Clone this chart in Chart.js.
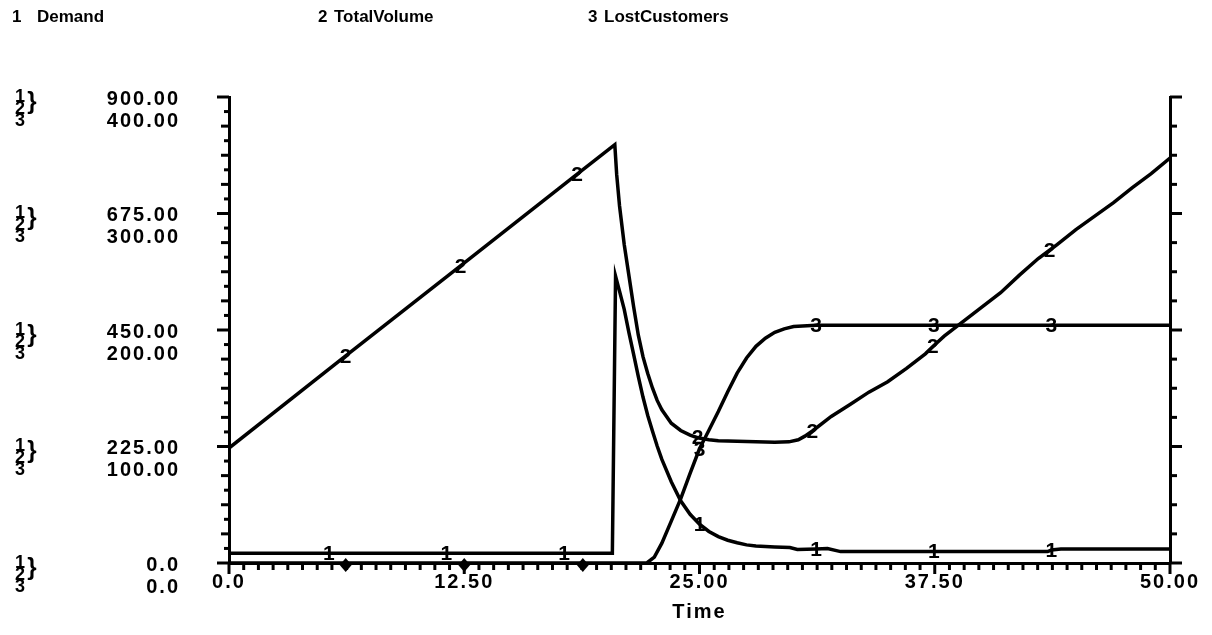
<!DOCTYPE html>
<html>
<head>
<meta charset="utf-8">
<title>Demand / TotalVolume / LostCustomers</title>
<script src="https://cdn.jsdelivr.net/npm/chart.js@4.4.0/dist/chart.umd.min.js"></script>
<style>
  html, body { margin: 0; padding: 0; background: #fff; }
  #wrap { position: relative; width: 1212px; height: 635px; }
  #chart { position: absolute; left: 0; top: 0; }
  .key { position: absolute; top: 7px; font: bold 17px "Liberation Sans", Arial, sans-serif; line-height: 20px; color: #000; white-space: nowrap; }
</style>
</head>
<body>
<div id="wrap">
  <canvas id="chart" width="1212" height="635"></canvas>
</div>
<script>
// Series names, numbered 1..3 like the digit markers on the curves
const seriesNames = ['Demand', 'TotalVolume', 'LostCustomers'];

// Time axis
const timeTicks = [0, 12.5, 25, 37.5, 50];
const timeLabels = ['0.0', '12.50', '25.00', '37.50', '50.00'];

// Left axis: curves 1 and 2 share the upper label, curve 3 the lower one
const scale12Labels = ['0.0', '225.00', '450.00', '675.00', '900.00'];
const scale3Labels = ['0.0', '100.00', '200.00', '300.00', '400.00'];

// 1 Demand
const demandTime = [0, 5.3, 11.55, 17.8, 20.37, 20.54, 20.75, 21, 21.25, 21.5, 21.75, 22, 22.25, 22.5, 22.75, 23,
  23.5, 24, 24.5, 25, 25.5, 26, 26.5, 27, 27.5, 28, 29, 29.8, 30.2, 31.2, 31.8, 32.5, 37.45, 43.5, 43.7, 44.2, 50];
const demandValue = [19, 19, 19, 19, 19, 554, 525, 490, 445, 403, 360, 320, 285, 255, 226, 200,
  157, 120, 94, 75, 61, 51, 44, 39, 35, 33, 31, 30, 26, 27, 28, 22, 22, 22, 25, 27, 27];
const demandMarks = [5.3, 11.55, 17.8, 25, 31.2, 37.45, 43.7];

// 2 TotalVolume
const volumeTime = [0, 6.2, 12.3, 18.5, 20.5, 20.6, 20.75, 21, 21.25, 21.5, 21.75, 22, 22.25, 22.5, 22.75, 23,
  23.5, 24, 24.5, 24.9, 25.5, 26, 27, 28, 29, 29.75, 30.25, 30.6, 31, 32, 33, 34, 35, 36, 37, 37.4, 38, 39, 40,
  41, 42, 43, 43.6, 44, 45, 46, 47, 48, 49, 50];
const volumeValue = [222, 400, 574, 751, 808, 750, 690, 615, 555, 495, 440, 398, 366, 338, 314, 296,
  270, 256, 247, 242, 238, 236, 235, 234, 233, 234, 238, 245, 255, 283, 306, 330, 350, 376, 404, 418, 438, 466, 494,
  522, 556, 588, 604, 615, 644, 670, 696, 725, 752, 782];
const volumeMarks = [6.2, 12.3, 18.5, 24.9, 31, 37.4, 43.6];

// 3 LostCustomers (own scale, 0..400)
const lostTime = [0, 6.2, 12.5, 18.8, 22.2, 22.6, 23, 23.5, 24, 24.5, 25, 25.5, 26, 26.5, 27, 27.5, 28, 28.5,
  29, 29.5, 30, 31.2, 37.45, 43.7, 50];
const lostValue = [0, 0, 0, 0, 0, 5, 17, 36, 55, 77, 98, 114, 130, 147, 163, 176, 186, 193,
  198, 201, 203, 204, 204, 204, 204];
const lostMarks = [6.2, 12.5, 18.8, 25, 31.2, 37.45, 43.7];

const markTimes = [demandMarks, volumeMarks, lostMarks];

const FONT = '"Liberation Sans", Arial, sans-serif';

function points(ts, vs) {
  return ts.map((t, i) => ({ x: t, y: vs[i] }));
}

// legend row at the top
const legendSlots = [[12, 37], [318, 334], [588, 604]];
const wrap = document.getElementById('wrap');
seriesNames.forEach((name, i) => {
  const num = document.createElement('div');
  num.className = 'key';
  num.style.left = legendSlots[i][0] + 'px';
  num.textContent = String(i + 1);
  wrap.appendChild(num);
  const lab = document.createElement('div');
  lab.className = 'key';
  lab.style.left = legendSlots[i][1] + 'px';
  lab.textContent = name;
  wrap.appendChild(lab);
});

// tick marks: left axis in 32 steps, right axis in 16, time axis in 64
const leftDivisions = 32;
const rightDivisions = 16;
const timeDivisions = 64;

const axisDecor = {
  id: 'axisDecor',
  beforeDraw(chart) {
    chart.ctx.letterSpacing = '2px';
  },
  afterDraw(chart) {
    const { ctx, chartArea: a, scales: { x, y, yLost } } = chart;
    ctx.save();
    ctx.letterSpacing = '0px';
    ctx.strokeStyle = '#000';
    ctx.lineWidth = 3;
    const seg = (x1, y1, x2, y2) => {
      ctx.beginPath();
      ctx.moveTo(x1, y1);
      ctx.lineTo(x2, y2);
      ctx.stroke();
    };
    for (let k = 0; k <= leftDivisions; k++) {
      const py = y.getPixelForValue(y.max * k / leftDivisions);
      const len = k % 8 === 0 ? 12 : (k % 2 === 0 ? 8 : 5);
      seg(a.left - len, py, a.left, py);
    }
    for (let k = 0; k <= rightDivisions; k++) {
      const py = yLost.getPixelForValue(yLost.max * k / rightDivisions);
      seg(a.right, py, a.right + (k % 4 === 0 ? 12 : 7), py);
    }
    for (let k = 0; k <= timeDivisions; k++) {
      const px = x.getPixelForValue(x.max * k / timeDivisions);
      seg(px, a.bottom, px, a.bottom + (k % 16 === 0 ? 11 : 7));
    }
    // curve numbers stacked beside each label pair
    ctx.fillStyle = '#000';
    ctx.textAlign = 'center';
    ctx.textBaseline = 'middle';
    y.ticks.forEach(t => {
      const py = y.getPixelForValue(t.value);
      ctx.font = 'bold 18px ' + FONT;
      ctx.fillText('1', 20, py);
      ctx.fillText('2', 20, py + 12);
      ctx.fillText('3', 20, py + 24);
      ctx.font = 'bold 24px ' + FONT;
      ctx.fillText('}', 32, py + 5);
    });
    ctx.restore();
  },
  afterDatasetsDraw(chart) {
    const ctx = chart.ctx;
    ctx.save();
    ctx.letterSpacing = '0px';
    ctx.fillStyle = '#000';
    ctx.font = 'bold 21px ' + FONT;
    ctx.textAlign = 'center';
    ctx.textBaseline = 'middle';
    chart.data.datasets.forEach((ds, di) => {
      const meta = chart.getDatasetMeta(di);
      ds.data.forEach((p, i) => {
        if (!markTimes[di].includes(p.x)) return;
        const el = meta.data[i];
        if (p.y === 0) {
          // marker sitting on the time axis shows as a small diamond
          ctx.beginPath();
          ctx.moveTo(el.x, el.y - 5);
          ctx.lineTo(el.x + 6, el.y + 2);
          ctx.lineTo(el.x, el.y + 9);
          ctx.lineTo(el.x - 6, el.y + 2);
          ctx.closePath();
          ctx.fill();
        } else {
          ctx.fillText(String(di + 1), el.x, el.y + 1);
        }
      });
    });
    ctx.restore();
  }
};

function lineSet(label, data, axis) {
  return {
    label: label,
    data: data,
    yAxisID: axis,
    borderColor: '#000',
    borderWidth: 3.5,
    pointRadius: 0,
    tension: 0,
    fill: false
  };
}

const chart = new Chart(document.getElementById('chart').getContext('2d'), {
  type: 'line',
  data: {
    datasets: [
      lineSet(seriesNames[0], points(demandTime, demandValue), 'y'),
      lineSet(seriesNames[1], points(volumeTime, volumeValue), 'y'),
      lineSet(seriesNames[2], points(lostTime, lostValue), 'yLost')
    ]
  },
  options: {
    responsive: false,
    animation: false,
    devicePixelRatio: 1,
    layout: { padding: { top: 97, left: 0, right: 0, bottom: 0 } },
    plugins: {
      legend: { display: false },
      tooltip: { enabled: false }
    },
    scales: {
      x: {
        type: 'linear',
        min: 0,
        max: 50,
        afterBuildTicks: s => { s.ticks = timeTicks.map(v => ({ value: v })); },
        afterFit: s => { s.height = 72; },
        ticks: {
          callback: (v, i) => timeLabels[i],
          color: '#000',
          padding: 7,
          maxRotation: 0,
          font: { family: FONT, size: 20, weight: 'bold' }
        },
        grid: { drawOnChartArea: false, drawTicks: false },
        border: { display: true, color: '#000', width: 3 },
        title: {
          display: true,
          text: 'Time',
          color: '#000',
          padding: { top: 0, bottom: 11 },
          font: { family: FONT, size: 20, weight: 'bold' }
        }
      },
      y: {
        position: 'left',
        min: 0,
        max: parseFloat(scale12Labels[scale12Labels.length - 1]),
        afterBuildTicks: s => { s.ticks = scale12Labels.map(v => ({ value: parseFloat(v) })); },
        afterFit: s => { s.width = 229; },
        ticks: {
          callback: (v, i) => [scale12Labels[i], scale3Labels[i]],
          color: '#000',
          padding: 49,
          labelOffset: 13,
          font: { family: FONT, size: 20, weight: 'bold', lineHeight: 1.1 }
        },
        grid: { drawOnChartArea: false, drawTicks: false },
        border: { display: true, color: '#000', width: 3 }
      },
      yLost: {
        position: 'right',
        min: 0,
        max: parseFloat(scale3Labels[scale3Labels.length - 1]),
        afterFit: s => { s.width = 42; },
        ticks: { display: false },
        grid: { drawOnChartArea: false, drawTicks: false },
        border: { display: true, color: '#000', width: 3 }
      }
    }
  },
  plugins: [axisDecor]
});
</script>
</body>
</html>
